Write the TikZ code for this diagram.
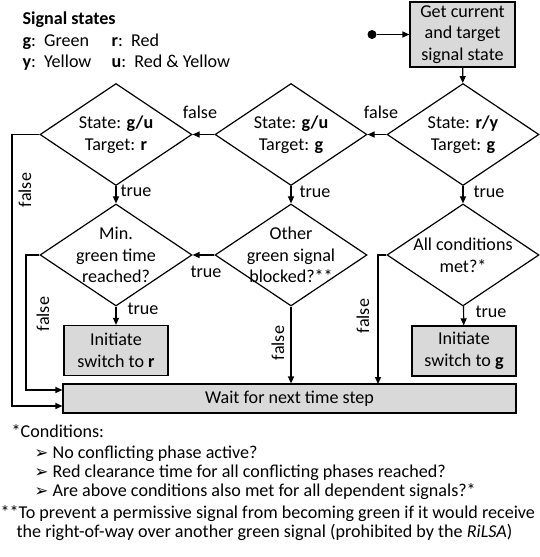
\documentclass[tikz,border=0pt]{standalone}
\usepackage{fontspec}
\setmainfont{Carlito}
\newfontfamily\symfont{DejaVu Sans}
\usetikzlibrary{arrows.meta,shapes.geometric}
\definecolor{boxgray}{RGB}{217,217,217}
\newcommand{\arrbullet}{\makebox[18pt][l]{\symfont\fontsize{16.5}{20}\selectfont ➢}}
\begin{document}
\begin{tikzpicture}[x=1pt,y=-1pt,
  font=\fontsize{18.1}{21.7}\selectfont,
  line width=1.2pt,
  proc/.style={draw, fill=boxgray, minimum width=104pt, minimum height=50pt, inner sep=0pt, align=center},
  dec/.style={draw, diamond, minimum width=152pt, minimum height=102pt, inner sep=0pt},
  dectext/.style={align=center, inner sep=0pt},
  arr/.style={-{Triangle[length=7pt,width=6pt]}},
  lbl/.style={inner sep=0pt}]
\useasboundingbox (0,0) rectangle (539,557);
% legend
\node[lbl,anchor=base west] (legtitle) at (22,24) {\textbf{Signal states}};
\node[lbl,anchor=base west] (leggreen) at (22,46) {\textbf{g}:\hspace{0.45em}Green};
\node[lbl,anchor=base west] (legred) at (111,46) {\textbf{r}:\hspace{0.45em}Red};
\node[lbl,anchor=base west] (legyellow) at (22,67) {\textbf{y}:\hspace{0.45em}Yellow};
\node[lbl,anchor=base west] (legredyellow) at (111,67) {\textbf{u}:\hspace{0.45em}Red \& Yellow};
% start and first box
\node[circle, fill, inner sep=0pt, minimum size=9pt] (start) at (372,34.5) {};
\node[proc, minimum height=65pt, minimum width=105pt] (get) at (462.5,34.5) {Get current\\and target\\signal state};
% decisions
\node[dec] (d1) at (463,134.5) {};
\node[dectext] at (d1) {State: \textbf{r/y}\\Target: \textbf{g}};
\node[dec] (d2) at (291,134.5) {};
\node[dectext] at (d2) {State: \textbf{g/u}\\Target: \textbf{g}};
\node[dec] (d3) at (116,134.5) {};
\node[dectext] at (d3) {State: \textbf{g/u}\\Target: \textbf{r}};
\node[dec] (d4) at (116,255) {};
\node[dectext] at (d4) {Min.\\green time\\reached?};
\node[dec] (d5) at (291,255) {};
\node[dectext] at (d5) {Other\\green signal\\blocked?**};
\node[dec] (d6) at (463,255) {};
\node[dectext] at (d6) {All conditions\\met?*};
% actions
\node[proc] (swr) at (116,350.5) {Initiate\\switch to \textbf{r}};
\node[proc] (swg) at (464,351) {Initiate\\switch to \textbf{g}};
\node[proc, minimum width=453pt, minimum height=29pt] (wait) at (289.5,398.5) {Wait for next time step};
% connectors
\draw[arr] (start) -- (get);
\draw[arr] (get) -- (d1);
\draw[arr] (d1.west) -- (d2.east);
\draw[arr] (d2.west) -- (d3.east);
\draw[arr] (d3) -- (d4);
\draw[arr] (d2) -- (d5);
\draw[arr] (d1) -- (d6);
\draw[arr] (d5.west) -- (d4.east);
\draw[arr] (d4) -- (swr);
\draw[arr] (d6) -- (swg);
\draw[arr] (d3.west) -- (12,134.5) |- ([yshift=-7.5pt]wait.west);
\draw[arr] (d4.west) -- (26,255) |- ([yshift=8.5pt]wait.west);
\draw[arr] (d5.south) -- (d5.south |- wait.north);
\draw[arr] (d6.west) -- (378,255) -- (378,384);
% labels
\node[lbl] (f12) at (381,112) {false};
\node[lbl] (f23) at (200,112) {false};
\node[lbl,anchor=west] (t3) at (120,191) {true};
\node[lbl,anchor=west] (t2) at (299,192) {true};
\node[lbl,anchor=west] (t1) at (473,192) {true};
\node[lbl] (t5) at (206,272) {true};
\node[lbl,anchor=west] (t4) at (127,309) {true};
\node[lbl,anchor=west] (t6) at (475,312) {true};
\node[lbl,rotate=90] (f3) at (25,190) {false};
\node[lbl,rotate=90] (f4) at (43,314) {false};
\node[lbl,rotate=90] (f5) at (278,343) {false};
\node[lbl,rotate=90] (f6) at (363,316) {false};
% footnotes
\node[lbl,anchor=base west] (cond) at (11,437) {*Conditions:};
\node[lbl,anchor=base west] (c1) at (34,458) {\arrbullet No conflicting phase active?};
\node[lbl,anchor=base west] (c2) at (34,477) {\arrbullet Red clearance time for all conflicting phases reached?};
\node[lbl,anchor=base west] (c3) at (34,496) {\arrbullet Are above conditions also met for all dependent signals?*};
\node[lbl,anchor=base west] (note1) at (0,518) {**To prevent a permissive signal from becoming green if it would receive};
\node[lbl,anchor=base west] (note2) at (16,537) {the right-of-way over another green signal (prohibited by the \textit{RiLSA})};
\end{tikzpicture}
\end{document}
